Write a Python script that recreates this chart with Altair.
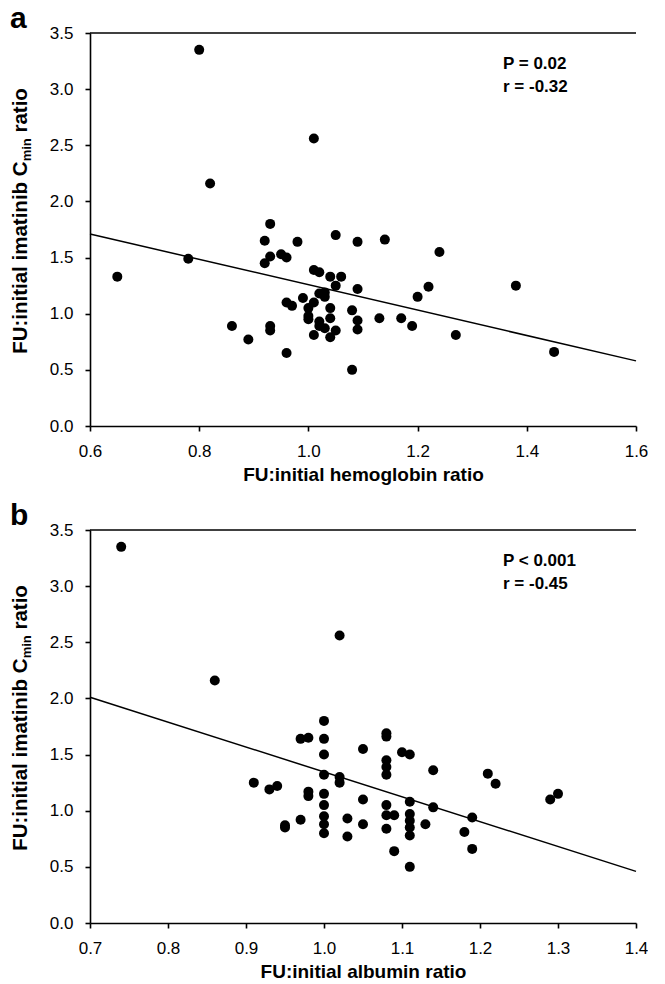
import altair as alt
import pandas as pd

# ---------------- data ----------------
hb_ratio = [0.80, 1.01, 0.82, 0.93, 1.05, 1.09, 0.92, 0.98, 0.78, 0.65,
            0.93, 0.92, 0.95, 0.96, 1.01, 1.02, 1.04, 1.06, 1.05, 1.09,
            1.02, 1.03, 1.03, 0.99, 1.01, 0.96, 0.97, 1.00, 1.04, 1.08,
            1.13, 1.00, 1.00, 1.02, 1.04, 1.09, 1.02, 1.03, 1.05, 1.09,
            1.01, 1.04, 0.86, 0.89, 0.93, 0.93, 0.96, 1.08, 1.14, 1.24,
            1.22, 1.20, 1.38, 1.17, 1.19, 1.27, 1.45]
cmin_a = [3.35, 2.56, 2.16, 1.80, 1.70, 1.64, 1.65, 1.64, 1.49, 1.33,
          1.51, 1.45, 1.53, 1.50, 1.39, 1.37, 1.33, 1.33, 1.25, 1.22,
          1.18, 1.19, 1.15, 1.14, 1.10, 1.10, 1.07, 1.05, 1.05, 1.03,
          0.96, 0.98, 0.95, 0.93, 0.96, 0.94, 0.89, 0.87, 0.85, 0.86,
          0.81, 0.79, 0.89, 0.77, 0.89, 0.85, 0.65, 0.50, 1.66, 1.55,
          1.24, 1.15, 1.25, 0.96, 0.89, 0.81, 0.66]

alb_ratio = [0.74, 1.02, 0.86, 1.00, 0.97, 0.98, 1.00, 1.05, 1.00, 1.00,
             1.02, 1.02, 0.91, 0.93, 0.94, 0.98, 0.98, 1.00, 1.00, 1.05,
             1.00, 1.00, 1.00, 0.97, 0.95, 0.95, 1.03, 1.03, 1.05, 1.08,
             1.08, 1.10, 1.11, 1.08, 1.08, 1.08, 1.14, 1.21, 1.22, 1.29,
             1.30, 1.08, 1.11, 1.08, 1.09, 1.11, 1.11, 1.11, 1.11, 1.08,
             1.13, 1.14, 1.19, 1.18, 1.19, 1.09, 1.11]
cmin_b = [3.35, 2.56, 2.16, 1.80, 1.64, 1.65, 1.64, 1.55, 1.50, 1.32,
          1.30, 1.25, 1.25, 1.19, 1.22, 1.17, 1.13, 1.15, 1.05, 1.10,
          0.95, 0.88, 0.80, 0.92, 0.87, 0.85, 0.93, 0.77, 0.88, 1.69,
          1.66, 1.52, 1.50, 1.45, 1.39, 1.32, 1.36, 1.33, 1.24, 1.10,
          1.15, 1.05, 1.08, 0.96, 0.96, 0.97, 0.91, 0.85, 0.78, 0.84,
          0.88, 1.03, 0.94, 0.81, 0.66, 0.64, 0.50]

# regression lines (end points)
fit_a_x = [0.6, 1.6]
fit_a_y = [1.71, 0.58]
fit_b_x = [0.7, 1.4]
fit_b_y = [2.01, 0.46]

y_ticks = [0.0, 0.5, 1.0, 1.5, 2.0, 2.5, 3.0, 3.5]
x_ticks_a = [0.6, 0.8, 1.0, 1.2, 1.4, 1.6]
x_ticks_b = [0.7, 0.8, 0.9, 1.0, 1.1, 1.2, 1.3, 1.4]

x_title_a = "FU:initial hemoglobin ratio"
x_title_b = "FU:initial albumin ratio"
y_title_parts = ["FU:initial imatinib C", "min", "ratio"]
stats_a = ["P = 0.02", "r = -0.32"]
stats_b = ["P < 0.001", "r = -0.45"]
letters = ["a", "b"]

# ---------------- styling ----------------
FONT = "Liberation Sans"
W, H = 546, 393
YT_SIZE = 20.5
SUB_SIZE = 13

# Arial-Bold advance widths (per 1000 em) to lay out the composed y title
ADV = {"F": 611, "U": 722, ":": 333, "i": 278, "n": 611, "t": 333, "a": 556,
       "l": 278, " ": 278, "m": 889, "b": 611, "C": 722, "r": 389, "o": 611}


def tw(s, size):
    return sum(ADV.get(c, 556) for c in s) * size / 1000.0


def one():
    return alt.Data(values=[{"k": 1}])


def panel(xv, yv, fx, fy, xdom, xticks, xtitle, letter, stats):
    df = pd.DataFrame({"x": xv, "y": yv})
    fdf = pd.DataFrame({"x": fx, "y": fy})
    xs = alt.Scale(domain=xdom, nice=False, zero=False)
    ys = alt.Scale(domain=[0, 3.5], nice=False, zero=False)
    xax = alt.Axis(values=xticks, format=".1f", title=xtitle)
    yax = alt.Axis(values=y_ticks, format=".1f", title=None)

    pts = alt.Chart(df).mark_circle(size=100, color="black", opacity=1).encode(
        x=alt.X("x:Q", scale=xs, axis=xax),
        y=alt.Y("y:Q", scale=ys, axis=yax),
    )
    fit = alt.Chart(fdf).mark_line(color="black", strokeWidth=1.5).encode(
        x=alt.X("x:Q", scale=xs), y=alt.Y("y:Q", scale=ys)
    )
    top = alt.Chart(one()).mark_rule(color="black", strokeWidth=1.6).encode(
        x=alt.value(0), x2=alt.value(W), y=alt.value(0)
    )
    layers = [top, fit, pts]

    # statistics annotation
    for i, s in enumerate(stats):
        layers.append(
            alt.Chart(one()).mark_text(
                text=s, font=FONT, fontSize=17, fontWeight="bold",
                align="left", baseline="alphabetic", color="black"
            ).encode(x=alt.value(413), y=alt.value(36 + 23 * i))
        )

    # panel letter
    layers.append(
        alt.Chart(one()).mark_text(
            text=letter, font=FONT, fontSize=30, fontWeight="bold",
            align="left", baseline="alphabetic", color="black"
        ).encode(x=alt.value(-80), y=alt.value(-5))
    )

    # composed vertical y title with subscript
    w1 = tw(y_title_parts[0], YT_SIZE)
    w2 = tw(y_title_parts[1], SUB_SIZE)
    gap = tw(" ", YT_SIZE)
    w3 = tw(y_title_parts[2], YT_SIZE)
    total = w1 + w2 + gap + w3
    start = 188 + total / 2.0
    xb = -63
    pieces = [
        (y_title_parts[0], YT_SIZE, xb, start),
        (y_title_parts[1], SUB_SIZE, xb + 4, start - w1),
        (y_title_parts[2], YT_SIZE, xb, start - w1 - w2 - gap),
    ]
    for txt, size, px, py in pieces:
        layers.append(
            alt.Chart(one()).mark_text(
                text=txt, font=FONT, fontSize=size, fontWeight="bold",
                angle=270, align="left", baseline="alphabetic", color="black"
            ).encode(x=alt.value(px), y=alt.value(py))
        )

    return alt.layer(*layers).properties(width=W, height=H)


pa = panel(hb_ratio, cmin_a, fit_a_x, fit_a_y, [0.6, 1.6], x_ticks_a,
           x_title_a, letters[0], stats_a)
pb = panel(alb_ratio, cmin_b, fit_b_x, fit_b_y, [0.7, 1.4], x_ticks_b,
           x_title_b, letters[1], stats_b)

chart = (
    alt.vconcat(pa, pb, spacing=17)
    .properties(padding={"left": 10, "top": 4, "right": 0, "bottom": 0},
                background="white")
    .configure_view(stroke=None)
    .configure_axis(
        domainColor="black", domainWidth=1.6, tickColor="black", tickWidth=1.6,
        tickSize=5, grid=False, labelColor="black", labelFont=FONT,
        labelFontSize=17, labelPadding=12, titleFont=FONT, titleFontSize=19,
        titleFontWeight="bold", titleColor="black", titlePadding=6,
        labelFlush=False, labelOverlap=False,
    )
)

chart.save("out.html", embed_options={"renderer": "svg", "actions": False})
